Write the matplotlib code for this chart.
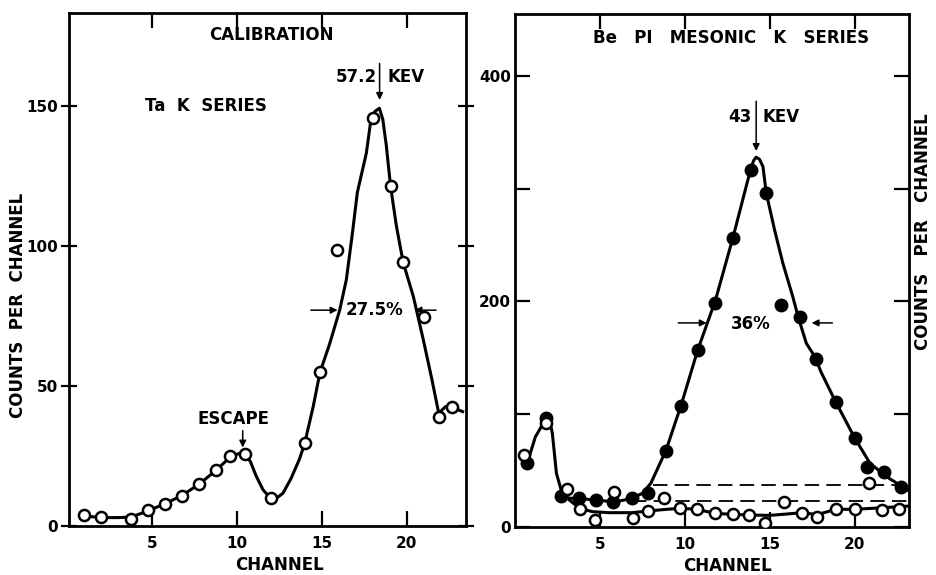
import matplotlib
matplotlib.use("Agg")
from matplotlib import pyplot as plt

# left panel: Ta K series calibration
ta_ch = [1.0, 2.0, 3.8, 4.8, 5.8, 6.8, 7.8, 8.8, 9.6, 10.5, 12.0, 14.0, 14.9, 15.9,
         18.0, 19.06, 19.8, 21.0, 21.9, 22.7]
ta_cnt = [3.9, 3.1, 2.6, 5.7, 7.9, 10.7, 15.0, 19.9, 25.0, 25.6, 10.0, 29.5, 54.8, 98.6,
          145.4, 121.2, 94.3, 74.4, 39.0, 42.3]
ta_curve_ch = [1.0, 2.0, 3.0, 3.8, 4.8, 5.8, 6.8, 7.8, 8.8, 9.6, 10.1, 10.4, 10.8, 11.16,
               11.55, 12.0, 12.4, 12.72, 13.2, 13.7, 14.0, 14.5, 14.9, 15.47, 16.06,
               16.45, 16.8, 17.1, 17.63, 17.9, 18.15, 18.4, 18.6, 18.8, 19.06, 19.4,
               19.8, 20.4, 21.0, 21.5, 21.9, 22.1, 22.3, 22.7, 23.3]
ta_curve_cnt = [3.6, 3.0, 3.0, 3.2, 5.5, 8.0, 11.0, 15.0, 20.0, 24.5, 25.8, 26.2, 23.0,
                17.6, 12.9, 9.8, 10.2, 11.7, 17.0, 24.0, 29.5, 42.6, 54.8, 65.0, 77.0,
                87.8, 104.0, 119.0, 133.0, 145.0, 148.0, 149.0, 145.0, 136.0, 121.0,
                107.0, 94.0, 81.8, 66.0, 52.0, 40.0, 41.5, 42.6, 42.3, 40.8]

# right panel: Be pi-mesonic K series
be_ch = [0.73, 1.85, 2.73, 3.78, 4.76, 5.78, 6.89, 7.81, 8.89, 9.78, 10.76, 11.8, 12.82,
         13.87, 14.79, 15.68, 16.76, 17.7, 18.88, 20.0, 20.75, 21.73, 22.72]
be_cnt = [57, 96.4, 27.5, 25.4, 24, 22.5, 25.4, 29.9, 67.7, 107.6, 157, 198.4, 256,
          316.6, 296.5, 197, 186, 148.7, 111, 79.2, 53, 49, 35.2]
bg_ch = [0.53, 1.81, 3.09, 3.82, 4.7, 5.84, 6.92, 7.85, 8.79, 9.72, 10.7, 11.8, 12.86,
         13.77, 14.7, 15.81, 16.89, 17.8, 18.92, 20.0, 20.83, 21.58, 22.62]
bg_cnt = [63.9, 92.5, 33.4, 15.7, 6.2, 31.3, 7.7, 14.2, 25.4, 16.6, 15.7, 12.1, 11.2,
          10.6, 3.8, 22.5, 12.7, 9.2, 15.7, 15.7, 38.7, 15.1, 15.7]
be_curve_ch = [0.73, 1.2, 1.72, 2.0, 2.2, 2.44, 2.8, 3.2, 3.78, 4.76, 5.94, 6.9, 7.5,
               8.0, 8.89, 9.78, 10.76, 11.8, 12.82, 13.87, 14.05, 14.2, 14.4, 14.6,
               14.79, 15.29, 15.77, 16.36, 16.66, 17.15, 17.7, 18.0, 18.88, 20.0, 20.9,
               21.88, 22.95, 23.2]
be_curve_cnt = [57, 80, 93.4, 97.8, 83, 47.6, 28.4, 25.5, 25.4, 23.7, 22.4, 25.4, 29.9,
                38.8, 68, 108, 157, 201, 256, 317, 325, 328, 326, 319.6, 296.5, 263,
                234, 204, 187, 163, 150, 138, 111, 79, 56.5, 44.6, 34.3, 32]
bg_curve_ch = [3.2, 3.78, 4.55, 5.5, 6.9, 7.85, 8.8, 9.72, 10.7, 11.8, 12.86, 13.77,
               15.0, 16.0, 16.9, 17.8, 18.9, 20.0, 21.6, 22.6, 23.2]
bg_curve_cnt = [24, 16.8, 13.6, 12.7, 12.7, 14.2, 15.5, 16.6, 15.7, 12.0, 11.2, 10.6,
                10.3, 11.5, 12.7, 11.0, 15.7, 15.7, 17.0, 18.0, 18.6]
upper_dash_ch = [8.1, 23.0]
upper_dash_cnt = [37.2, 37.2]
lower_dash_ch = [6.9, 23.2]
lower_dash_cnt = [23, 23]

plt.rcParams['font.family'] = 'DejaVu Sans'
plt.rcParams['font.weight'] = 'bold'
fs = 12
tfs = 11

fig = plt.figure(figsize=(9.36, 5.75), dpi=100)
ax1 = fig.add_axes([0.0737, 0.0852, 0.4242, 0.8922])
ax2 = fig.add_axes([0.5502, 0.0835, 0.4210, 0.8922])

arrow = dict(arrowstyle='-|>', color='black', lw=1.1, mutation_scale=10)

# ---- left ----
ax1.plot(ta_curve_ch, ta_curve_cnt, color='black', lw=2.2, zorder=2)
ax1.plot(ta_ch, ta_cnt, 'o', ms=8, mfc='white', mec='black', mew=1.8, zorder=3)
ax1.set_xlim(0.12, 23.5)
ax1.set_ylim(0, 183)
ax1.set_xticks([5, 10, 15, 20])
ax1.set_yticks([0, 50, 100, 150])
ax1.tick_params(axis='y', left=True, right=True, direction='inout', length=12, width=1.6,
                labelsize=tfs, pad=2)
ax1.tick_params(axis='x', bottom=True, top=True, direction='in', length=11, width=1.6,
                labelsize=tfs, pad=7)
ax1.set_xlabel('CHANNEL', fontsize=fs, fontweight='bold')
ax1.xaxis.set_label_coords(0.53, -0.058)
ax1.set_ylabel('COUNTS  PER  CHANNEL', fontsize=fs, fontweight='bold')
ax1.yaxis.set_label_coords(-0.128, 0.431)
ax1.yaxis.label.set_va('center')
ax1.text(12.06, 175, 'CALIBRATION', ha='center', va='center', fontsize=fs, fontweight='bold')
ax1.text(4.6, 150, 'Ta  K  SERIES', ha='left', va='center', fontsize=fs, fontweight='bold')
ax1.text(18.25, 160, '57.2', ha='right', va='center', fontsize=fs, fontweight='bold')
ax1.text(18.9, 160, 'KEV', ha='left', va='center', fontsize=fs, fontweight='bold')
ax1.annotate('', xy=(18.41, 151), xytext=(18.41, 166), arrowprops=arrow)
ax1.text(18.1, 77, '27.5%', ha='center', va='center', fontsize=fs, fontweight='bold')
ax1.annotate('', xy=(16.1, 77), xytext=(14.2, 77), arrowprops=arrow)
ax1.annotate('', xy=(20.3, 77), xytext=(21.9, 77), arrowprops=arrow)
ax1.text(9.82, 38, 'ESCAPE', ha='center', va='center', fontsize=fs, fontweight='bold')
ax1.annotate('', xy=(10.35, 27), xytext=(10.35, 35), arrowprops=arrow)

# ---- right ----
ax2.plot(be_curve_ch, be_curve_cnt, color='black', lw=2.2, zorder=2)
ax2.plot(bg_curve_ch, bg_curve_cnt, color='black', lw=2.2, zorder=2)
ax2.plot(upper_dash_ch, upper_dash_cnt, color='black', lw=1.3, ls=(0, (8, 4)), zorder=1)
ax2.plot(lower_dash_ch, lower_dash_cnt, color='black', lw=1.3, ls=(0, (8, 4)), zorder=1)
ax2.plot(be_ch, be_cnt, 'o', ms=9, color='black', zorder=3)
ax2.plot(bg_ch, bg_cnt, 'o', ms=8, mfc='white', mec='black', mew=1.8, zorder=4)
ax2.set_xlim(0, 23.2)
ax2.set_ylim(0, 455)
ax2.set_xticks([5, 10, 15, 20])
ax2.set_yticks([0, 100, 200, 300, 400])
ax2.set_yticklabels(['0', '', '200', '', '400'])
ax2.tick_params(axis='y', left=True, right=True, direction='in', length=11, width=1.6,
                labelsize=tfs, pad=3)
ax2.tick_params(axis='x', bottom=True, top=True, direction='in', length=11, width=1.6,
                labelsize=tfs, pad=7)
ax2.set_xlabel('CHANNEL', fontsize=fs, fontweight='bold')
ax2.xaxis.set_label_coords(0.54, -0.058)
ax2.yaxis.set_label_position('right')
ax2.set_ylabel('COUNTS   PER   CHANNEL', fontsize=fs, fontweight='bold')
ax2.yaxis.set_label_coords(1.036, 0.575)
ax2.yaxis.label.set_va('center')
ax2.text(12.75, 434, 'Be   PI   MESONIC   K   SERIES', ha='center', va='center',
         fontsize=fs, fontweight='bold')
ax2.text(13.9, 364, '43', ha='right', va='center', fontsize=fs, fontweight='bold')
ax2.text(14.55, 364, 'KEV', ha='left', va='center', fontsize=fs, fontweight='bold')
ax2.annotate('', xy=(14.2, 331), xytext=(14.2, 380), arrowprops=arrow)
ax2.text(13.9, 180, '36%', ha='center', va='center', fontsize=fs, fontweight='bold')
ax2.annotate('', xy=(11.45, 181), xytext=(9.45, 181), arrowprops=arrow)
ax2.annotate('', xy=(17.3, 181), xytext=(18.85, 181), arrowprops=arrow)

for ax in (ax1, ax2):
    for s in ax.spines.values():
        s.set_linewidth(2)

fig.savefig('out.png', dpi=100)
